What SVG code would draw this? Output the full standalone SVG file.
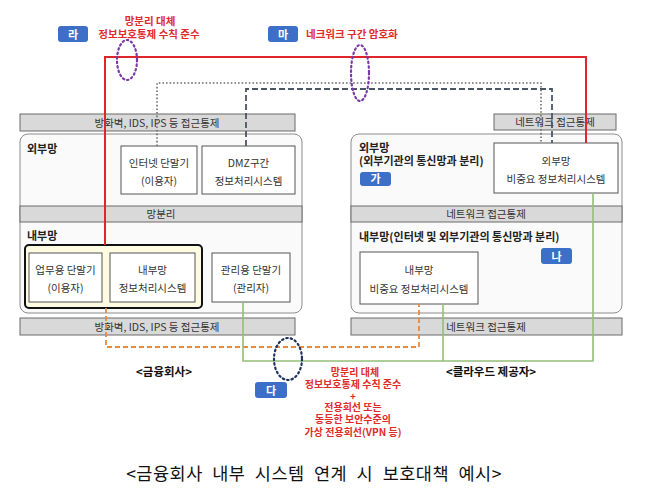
<svg xmlns="http://www.w3.org/2000/svg" width="650" height="499" viewBox="0 0 650 499">
<style>
text{font-family:"Noto Sans CJK KR","Noto Sans",sans-serif;}
.bar{fill:#d9d9d9;stroke:#6b6b6b;stroke-width:1}
.cont{fill:#fafafa;stroke:#8c8c8c;stroke-width:1}
.box{fill:#fff;stroke:#555;stroke-width:1}
.t{font-size:10.5px;fill:#333;text-anchor:middle}
.h{font-size:11px;font-weight:bold;fill:#222}
.badge{fill:#3d6fc8}
.bt{font-size:11px;fill:#fff;text-anchor:middle;font-weight:bold}
.red{font-size:10px;fill:#e02b2b;font-weight:bold;text-anchor:middle}
.redt{font-size:10.5px;fill:#e02b2b;font-weight:bold;text-anchor:middle}
.redl{font-size:10.5px;fill:#e02b2b;font-weight:bold;text-anchor:start}
.sub{font-size:11.5px;fill:#111;text-anchor:middle;font-weight:bold}
</style>
<rect width="650" height="499" fill="#fff"/>

<!-- containers and bars -->
<g id="left-top-bar"><rect class="bar" x="20" y="114" width="275" height="17"/><text class="t" x="157" y="126.5">방화벽, IDS, IPS 등 접근통제</text></g>
<g id="right-top-bar"><rect class="bar" x="494" y="114" width="122" height="16"/><text class="t" x="555" y="126">네트워크 접근통제</text></g>
<g id="left-container">
<rect class="cont" x="20" y="134" width="282" height="179" rx="8"/>
<text class="h" x="27" y="153">외부망</text>
<rect class="bar" x="20" y="206" width="282" height="16"/><text class="t" x="161" y="218">망분리</text>
<text class="h" x="27" y="240">내부망</text>
</g>
<g id="right-container">
<rect class="cont" x="351" y="134" width="271" height="179" rx="8"/>
<text class="h" x="359" y="152">외부망</text>
<text class="h" x="359" y="165">(외부기관의 통신망과 분리)</text>
<rect class="bar" x="351" y="206" width="271" height="16"/><text class="t" x="486" y="218">네트워크 접근통제</text>
<text class="h" x="359" y="241">내부망(인터넷 및 외부기관의 통신망과 분리)</text>
</g>
<g id="left-bottom-bar"><rect class="bar" x="20" y="318" width="275" height="17"/><text class="t" x="157" y="330.5">방화벽, IDS, IPS 등 접근통제</text></g>
<g id="right-bottom-bar"><rect class="bar" x="351" y="318" width="271" height="17"/><text class="t" x="486" y="330.5">네트워크 접근통제</text></g>

<!-- nodes -->
<g id="internet-terminal"><rect class="box" x="121" y="146" width="76" height="48"/><text class="t" x="159" y="167">인터넷 단말기</text><text class="t" x="159" y="185">(이용자)</text></g>
<g id="dmz"><rect class="box" x="202" y="146" width="93" height="48"/><text class="t" x="248.5" y="167">DMZ구간</text><text class="t" x="248.5" y="185">정보처리시스템</text></g>
<g id="yellow-group"><rect x="25" y="245" width="177" height="63" rx="4" fill="#fffbe3" stroke="#111" stroke-width="2"/></g>
<g id="work-terminal"><rect class="box" x="29" y="253" width="73" height="49" fill="#fffdf0"/><text class="t" x="65.5" y="274">업무용 단말기</text><text class="t" x="65.5" y="292">(이용자)</text></g>
<g id="internal-system"><rect class="box" x="110" y="253" width="85" height="49"/><text class="t" x="152.5" y="274">내부망</text><text class="t" x="152.5" y="292">정보처리시스템</text></g>
<g id="admin-terminal"><rect class="box" x="212" y="253" width="78" height="49"/><text class="t" x="251" y="274">관리용 단말기</text><text class="t" x="251" y="292">(관리자)</text></g>
<g id="ext-nonimportant"><rect class="box" x="494" y="143" width="124" height="50"/><text class="t" x="556" y="165">외부망</text><text class="t" x="556" y="183">비중요 정보처리시스템</text></g>
<g id="int-nonimportant"><rect class="box" x="360" y="252" width="118" height="52"/><text class="t" x="419" y="274">내부망</text><text class="t" x="419" y="293">비중요 정보처리시스템</text></g>

<!-- connectors -->
<g id="connectors" fill="none">
<polyline points="105,245 105,57 586,57 586,143" stroke="#e0262b" stroke-width="2"/>
<polyline points="157,146 157,83 541,83 541,143" stroke="#6d6d6d" stroke-width="1.6" stroke-dasharray="1.6,2"/>
<polyline points="246,146 246,89 552,89 552,143" stroke="#4a5566" stroke-width="1.8" stroke-dasharray="6,3"/>
<polyline points="106,308 106,347 419,347 419,304" stroke="#e8893c" stroke-width="1.8" stroke-dasharray="5,3"/>
<polyline points="243,302 243,361 593,361 593,193" stroke="#93bf78" stroke-width="1.6"/>
<line x1="443" y1="304" x2="443" y2="361" stroke="#93bf78" stroke-width="1.6"/>
<ellipse cx="127" cy="60" rx="10" ry="20" stroke="#7a3aa8" stroke-width="2.2" stroke-dasharray="1.5,3" stroke-linecap="round"/>
<ellipse cx="360" cy="73" rx="9" ry="28" stroke="#7a3aa8" stroke-width="2.2" stroke-dasharray="1.5,3" stroke-linecap="round"/>
<ellipse cx="288" cy="359" rx="14" ry="21" stroke="#1f3560" stroke-width="2.2" stroke-dasharray="1.5,3" stroke-linecap="round"/>
</g>

<!-- badges and labels -->
<g id="badge-ra"><rect class="badge" x="58" y="26" width="30" height="16" rx="3"/><text class="bt" x="73" y="38.5">라</text></g>
<g id="label-ra"><text class="redt" x="150" y="25">망분리 대체</text><text class="redt" x="149" y="38">정보보호통제 수칙 준수</text></g>
<g id="badge-ma"><rect class="badge" x="268" y="26" width="30" height="16" rx="3"/><text class="bt" x="283" y="38.5">마</text></g>
<g id="label-ma"><text class="redl" x="306" y="38">네크워크 구간 암호화</text></g>
<g id="badge-ga"><rect class="badge" x="360" y="172" width="31" height="14" rx="3"/><text class="bt" x="375.5" y="183">가</text></g>
<g id="badge-na"><rect class="badge" x="541" y="248" width="31" height="16" rx="3"/><text class="bt" x="556.5" y="260.5">나</text></g>
<g id="badge-da"><rect class="badge" x="255" y="382" width="32" height="16" rx="3"/><text class="bt" x="271" y="394.5">다</text></g>
<g id="label-da">
<text class="red" x="355" y="376">망분리 대체</text>
<text class="red" x="353" y="388">정보보호통제 수칙 준수</text>
<text class="red" x="353" y="399.5">+</text>
<text class="red" x="353" y="411">전용회선 또는</text>
<text class="red" x="353" y="423">동등한 보안수준의</text>
<text class="red" x="353" y="435.5">가상 전용회선(VPN 등)</text>
</g>
<text class="sub" x="164" y="376">&lt;금융회사&gt;</text>
<text class="sub" x="491" y="376">&lt;클라우드 제공자&gt;</text>
<text x="314" y="480" font-size="17.5" fill="#111" text-anchor="middle" letter-spacing="0.5" word-spacing="5">&lt;금융회사 내부 시스템 연계 시 보호대책 예시&gt;</text>
</svg>
